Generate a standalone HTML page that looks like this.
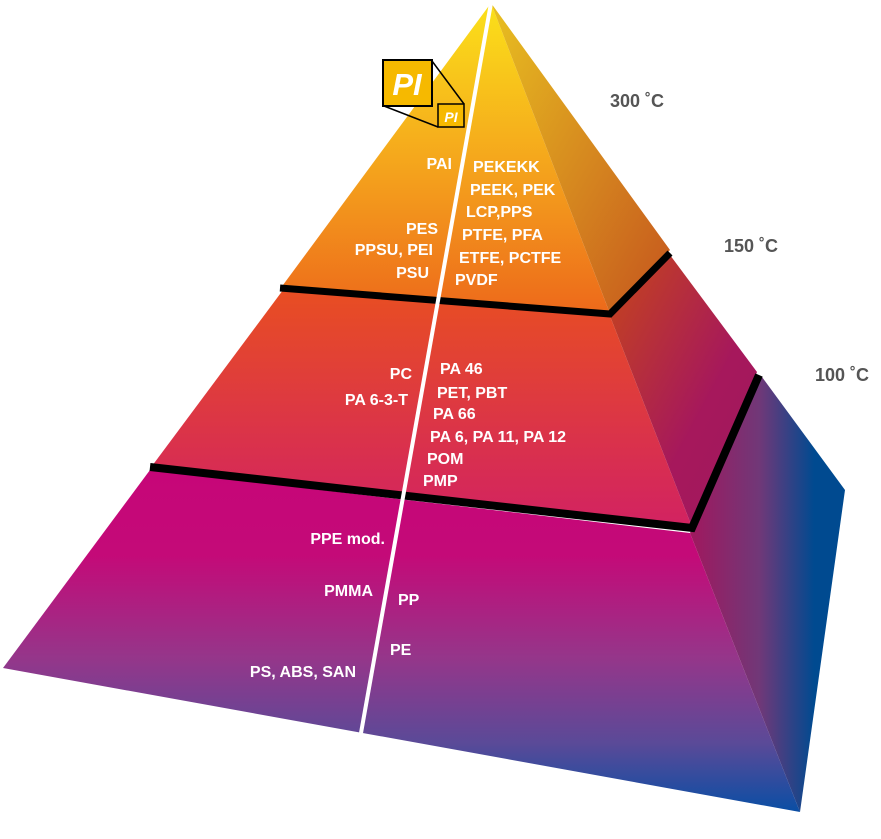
<!DOCTYPE html>
<html><head><meta charset="utf-8"><style>
html,body{margin:0;padding:0;background:#fff;}
svg{display:block;}
text{font-family:"Liberation Sans",sans-serif;}
.w{fill:#fff;font-weight:bold;font-size:16px;}
.t{fill:#555;font-size:18px;font-weight:bold;}
</style></head><body>
<svg width="881" height="839" viewBox="0 0 881 839" xmlns="http://www.w3.org/2000/svg">
<defs>
<linearGradient id="f1" x1="0" y1="0" x2="0" y2="1"><stop offset="0" stop-color="#fbe11a"/><stop offset="0.5" stop-color="#f5a81c"/><stop offset="1" stop-color="#ed6a1b"/></linearGradient>
<linearGradient id="r1" x1="0" y1="0" x2="1" y2="1"><stop offset="0" stop-color="#e8c020"/><stop offset="1" stop-color="#c5551e"/></linearGradient>
<linearGradient id="f2" x1="0" y1="0" x2="0" y2="1"><stop offset="0" stop-color="#e84e22"/><stop offset="1" stop-color="#d22262"/></linearGradient>
<linearGradient id="r2" x1="0" y1="0" x2="1" y2="1"><stop offset="0" stop-color="#c6461a"/><stop offset="0.6" stop-color="#a6185c"/><stop offset="1" stop-color="#a0185e"/></linearGradient>
<linearGradient id="f3" x1="0" y1="0" x2="0" y2="1"><stop offset="0" stop-color="#c60678"/><stop offset="0.25" stop-color="#c40a78"/><stop offset="0.55" stop-color="#95368a"/><stop offset="0.8" stop-color="#5a4a98"/><stop offset="1" stop-color="#0a4ea4"/></linearGradient>
<linearGradient id="r3" x1="0" y1="0" x2="1" y2="0"><stop offset="0" stop-color="#a0185e"/><stop offset="0.45" stop-color="#703878"/><stop offset="0.8" stop-color="#004a90"/><stop offset="1" stop-color="#004a90"/></linearGradient>
</defs>
<polygon points="150,470 690,533 800,812 3,668" fill="url(#f3)"/>
<polygon points="690,533 762,377 845,490 800,812" fill="url(#r3)"/>
<polygon points="283,290 610,316 692,527 152,466" fill="url(#f2)"/>
<polygon points="610,316 670,255 757,372 692,527" fill="url(#r2)"/>
<polygon points="491,3 609,311 283,285" fill="url(#f1)"/>
<polygon points="491,3 670,250 609,311" fill="url(#r1)"/>
<polyline points="280,288 610,314 670,253" fill="none" stroke="#000" stroke-width="7"/>
<polyline points="150,467 692,528 759,375" fill="none" stroke="#000" stroke-width="8"/>
<line x1="491" y1="3" x2="361" y2="733" stroke="#fff" stroke-width="4"/>
<line x1="432" y1="61" x2="464" y2="104" stroke="#000" stroke-width="1.5"/>
<line x1="384" y1="106" x2="438" y2="127" stroke="#000" stroke-width="1.5"/>
<rect x="383" y="60" width="49" height="46" fill="#f6b900" stroke="#000" stroke-width="2"/>
<text x="407" y="95" text-anchor="middle" style="fill:#fff;font-weight:bold;font-style:italic;font-size:31px;">PI</text>
<rect x="438" y="104" width="26" height="23" fill="#f6b900" stroke="#000" stroke-width="1.5"/>
<text x="451" y="122" text-anchor="middle" style="fill:#fff;font-weight:bold;font-style:italic;font-size:14px;">PI</text>
<text class="w" x="452" y="169" text-anchor="end">PAI</text>
<text class="w" x="438" y="234" text-anchor="end">PES</text>
<text class="w" x="433" y="255" text-anchor="end">PPSU, PEI</text>
<text class="w" x="429" y="278" text-anchor="end">PSU</text>
<text class="w" x="473" y="172">PEKEKK</text>
<text class="w" x="470" y="195">PEEK, PEK</text>
<text class="w" x="466" y="217">LCP,PPS</text>
<text class="w" x="462" y="240">PTFE, PFA</text>
<text class="w" x="459" y="263">ETFE, PCTFE</text>
<text class="w" x="455" y="285">PVDF</text>
<text class="w" x="412" y="379" text-anchor="end">PC</text>
<text class="w" x="408" y="405" text-anchor="end">PA 6-3-T</text>
<text class="w" x="440" y="374">PA 46</text>
<text class="w" x="437" y="398">PET, PBT</text>
<text class="w" x="433" y="419">PA 66</text>
<text class="w" x="430" y="442">PA 6, PA 11, PA 12</text>
<text class="w" x="427" y="464">POM</text>
<text class="w" x="423" y="486">PMP</text>
<text class="w" x="385" y="544" text-anchor="end">PPE mod.</text>
<text class="w" x="373" y="596" text-anchor="end">PMMA</text>
<text class="w" x="356" y="677" text-anchor="end">PS, ABS, SAN</text>
<text class="w" x="398" y="605">PP</text>
<text class="w" x="390" y="655">PE</text>
<text class="t" x="610" y="107">300 ˚C</text>
<text class="t" x="724" y="252">150 ˚C</text>
<text class="t" x="815" y="381">100 ˚C</text>
</svg>
</body></html>
